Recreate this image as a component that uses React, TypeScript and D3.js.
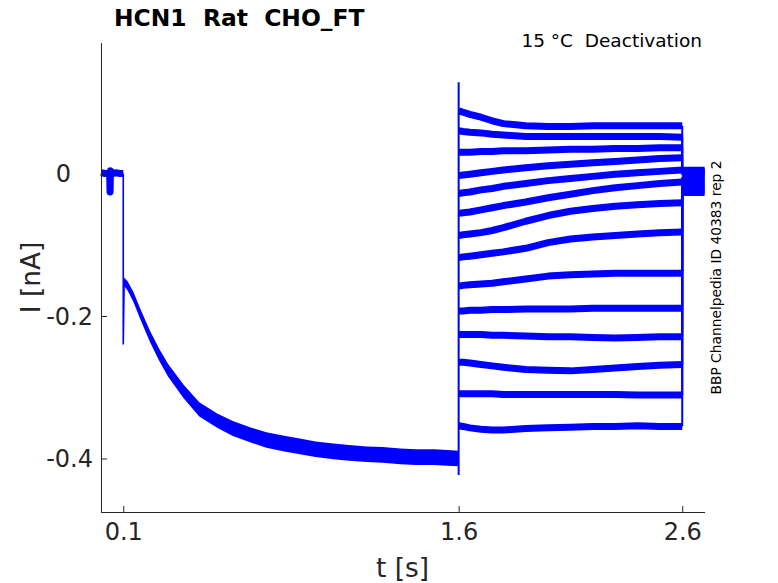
import React, { useRef, useEffect } from "react";
import { select, line, area, scaleLinear, axisBottom, axisLeft } from "d3";

// holding segment before the activating step
const preTime = [0, 0.02, 0.039, 0.041, 0.043, 0.052, 0.07, 0.085, 0.1];
const preCurrent = [0.001, 0.0, 0.0, -0.026, 0.004, 0.0, 0.001, 0.0, 0.0];

// activation step (shared by all sweeps)
const actTime = [
  0.104, 0.12, 0.145, 0.18, 0.22, 0.26, 0.3, 0.37, 0.44, 0.52, 0.59, 0.67, 0.74,
  0.82, 0.89, 0.96, 1.04, 1.11, 1.19, 1.26, 1.34, 1.41, 1.49, 1.55, 1.6,
];
const actCurrent = [
  -0.152, -0.158, -0.173, -0.2, -0.229, -0.254, -0.276, -0.306, -0.331, -0.347,
  -0.358, -0.367, -0.374, -0.379, -0.383, -0.387, -0.39, -0.392, -0.394,
  -0.395, -0.397, -0.398, -0.398, -0.399, -0.4,
];
const actNoise = [
  0.006, 0.0065, 0.007, 0.0075, 0.008, 0.0085, 0.009, 0.0095, 0.01, 0.01,
  0.0105, 0.0105, 0.011, 0.011, 0.011, 0.011, 0.011, 0.011, 0.011, 0.011,
  0.011, 0.011, 0.011, 0.011, 0.011,
];

// step artefacts
const step1Time = [0.1, 0.1, 0.104];
const step1Current = [0.0, -0.24, -0.15];
const step2Time = [1.6, 1.6];
const step2Current = [-0.423, 0.128];

// deactivation tails
const tailTime = [1.6, 1.62, 1.65, 1.7, 1.75, 1.8, 1.9, 2.0, 2.1, 2.2, 2.3, 2.4, 2.5, 2.6];
const tails = [
  [0.088, 0.086, 0.083, 0.079, 0.074, 0.07, 0.067, 0.066, 0.066, 0.067, 0.067, 0.067, 0.067, 0.067],
  [0.06, 0.059, 0.058, 0.057, 0.055, 0.054, 0.052, 0.052, 0.052, 0.052, 0.052, 0.052, 0.052, 0.051],
  [0.03, 0.03, 0.03, 0.031, 0.031, 0.032, 0.032, 0.033, 0.034, 0.034, 0.035, 0.035, 0.036, 0.036],
  [-0.003, -0.002, -0.001, 0.001, 0.003, 0.005, 0.008, 0.011, 0.013, 0.015, 0.017, 0.019, 0.021, 0.022],
  [-0.028, -0.027, -0.026, -0.023, -0.021, -0.018, -0.014, -0.01, -0.007, -0.004, -0.001, 0.001, 0.003, 0.005],
  [-0.056, -0.055, -0.054, -0.051, -0.048, -0.045, -0.04, -0.034, -0.029, -0.024, -0.02, -0.017, -0.014, -0.012],
  [-0.087, -0.086, -0.085, -0.083, -0.08, -0.076, -0.067, -0.059, -0.053, -0.049, -0.046, -0.044, -0.042, -0.041],
  [-0.118, -0.117, -0.116, -0.114, -0.112, -0.11, -0.105, -0.097, -0.092, -0.089, -0.087, -0.085, -0.083, -0.082],
  [-0.158, -0.157, -0.156, -0.155, -0.154, -0.152, -0.148, -0.144, -0.142, -0.141, -0.14, -0.14, -0.14, -0.14],
  [-0.193, -0.193, -0.192, -0.192, -0.191, -0.191, -0.19, -0.19, -0.19, -0.189, -0.189, -0.189, -0.189, -0.189],
  [-0.226, -0.226, -0.226, -0.226, -0.227, -0.227, -0.228, -0.229, -0.229, -0.23, -0.231, -0.23, -0.229, -0.229],
  [-0.265, -0.265, -0.266, -0.268, -0.27, -0.272, -0.275, -0.276, -0.277, -0.275, -0.273, -0.271, -0.269, -0.268],
  [-0.309, -0.309, -0.309, -0.309, -0.309, -0.31, -0.31, -0.31, -0.31, -0.31, -0.31, -0.311, -0.311, -0.311],
  [-0.354, -0.355, -0.357, -0.359, -0.36, -0.36, -0.358, -0.357, -0.356, -0.355, -0.355, -0.354, -0.355, -0.355],
];

// back at holding after the tail step
const postTime = [2.6, 2.7];
const postCurrent = [
  0.006, 0.004, 0.002, 0.0, -0.002, -0.005, -0.008, -0.011, -0.014, -0.017,
  -0.02, -0.023, -0.026, -0.028,
];

const xTicks = [0.1, 1.6, 2.6];
const xTickLabels = ["0.1", "1.6", "2.6"];
const yTicks = [-0.4, -0.2, 0];
const yTickLabels = ["-0.4", "-0.2", "0"];

const FONT = "'DejaVu Sans', sans-serif";
const BLUE = "#0000ff";
const AXIS = "#262626";

const App: React.FC = () => {
  const svgRef = useRef(null);

  useEffect(() => {
    const svg = select(svgRef.current);
    svg.selectAll("*").remove();

    //scales
    const xScale = scaleLinear().domain([0, 2.7]).range([100.9, 704.6]);
    const yScale = scaleLinear().domain([-0.4755, 0.1836]).range([512.3, 42.7]);

    const pts = (ts: number[], vs: number[]) => ts.map((t, i) => ({ x: t, y: vs[i] }));
    const myLine = line<{ x: number; y: number }>()
      .x((d) => xScale(d.x))
      .y((d) => yScale(d.y));

    // activation band
    const band = area<number>()
      .x((_, i) => xScale(actTime[i]))
      .y0((d, i) => yScale(d - actNoise[i]))
      .y1((d, i) => yScale(d + actNoise[i]));
    svg.append("path").attr("d", band(actCurrent)).attr("fill", BLUE);

    const traces = svg.append("g").attr("fill", "none").attr("stroke", BLUE);

    traces
      .append("path")
      .attr("d", myLine(pts(preTime, preCurrent)))
      .attr("stroke-width", 7)
      .attr("stroke-linejoin", "round");

    traces.append("path").attr("d", myLine(pts(step1Time, step1Current))).attr("stroke-width", 1.6);
    traces.append("path").attr("d", myLine(pts(step2Time, step2Current))).attr("stroke-width", 2);

    tails.forEach((tail, i) => {
      traces
        .append("path")
        .attr("d", myLine(pts(tailTime, tail)))
        .attr("stroke-width", 7)
        .attr("stroke-linejoin", "round");
      // jump back to holding
      traces
        .append("path")
        .attr("d", myLine(pts([2.6, 2.6], [tail[tail.length - 1], postCurrent[i]])))
        .attr("stroke-width", 2);
      traces
        .append("path")
        .attr("d", myLine(pts(postTime, [postCurrent[i], postCurrent[i]])))
        .attr("stroke-width", 5);
    });

    //axes
    const yAxis = axisLeft(yScale)
      .tickValues(yTicks)
      .tickFormat((_, i) => yTickLabels[i])
      .tickSize(-6)
      .tickSizeOuter(0)
      .tickPadding(8);
    const xAxis = axisBottom(xScale)
      .tickValues(xTicks)
      .tickFormat((_, i) => xTickLabels[i])
      .tickSize(-6)
      .tickSizeOuter(0)
      .tickPadding(11);

    const gy = svg.append("g").attr("transform", "translate(101,0)").call(yAxis);
    const gx = svg.append("g").attr("transform", "translate(0,512)").call(xAxis);
    [gx, gy].forEach((g) => {
      g.select(".domain").attr("stroke", AXIS);
      g.selectAll(".tick line").attr("stroke", AXIS);
      g.selectAll(".tick text")
        .attr("fill", AXIS)
        .attr("font-size", 24)
        .attr("font-family", FONT);
    });
    // the zero label sits further left in the original
    gy.selectAll(".tick text")
      .attr("dy", "0.35em")
      .attr("dx", (d: any) => (d === 0 ? -22 : 0));
  }, []);

  return (
    <svg
      width={778}
      height={583}
      style={{ position: "absolute", left: 0, top: 0, background: "#fff" }}
    >
      <g ref={svgRef} />
      <text
        x={114}
        y={26}
        fontFamily={FONT}
        fontWeight="bold"
        fontSize={23.4}
        fill="#000"
        style={{ whiteSpace: "pre" }}
      >
        HCN1  Rat  CHO_FT
      </text>
      <text
        x={702}
        y={47}
        textAnchor="end"
        fontFamily={FONT}
        fontSize={18.5}
        fill="#000"
        style={{ whiteSpace: "pre" }}
      >
        15 °C  Deactivation
      </text>
      <text
        transform="translate(721,277.5) rotate(-90)"
        textAnchor="middle"
        fontFamily={FONT}
        fontSize={13.8}
        fill="#000"
      >
        BBP Channelpedia ID 40383 rep 2
      </text>
      <text
        transform="translate(40,277.5) rotate(-90)"
        textAnchor="middle"
        fontFamily={FONT}
        fontSize={26.4}
        fill={AXIS}
      >
        I [nA]
      </text>
      <text
        x={402.6}
        y={577}
        textAnchor="middle"
        fontFamily={FONT}
        fontSize={26.4}
        fill={AXIS}
      >
        t [s]
      </text>
    </svg>
  );
};

export default App;
